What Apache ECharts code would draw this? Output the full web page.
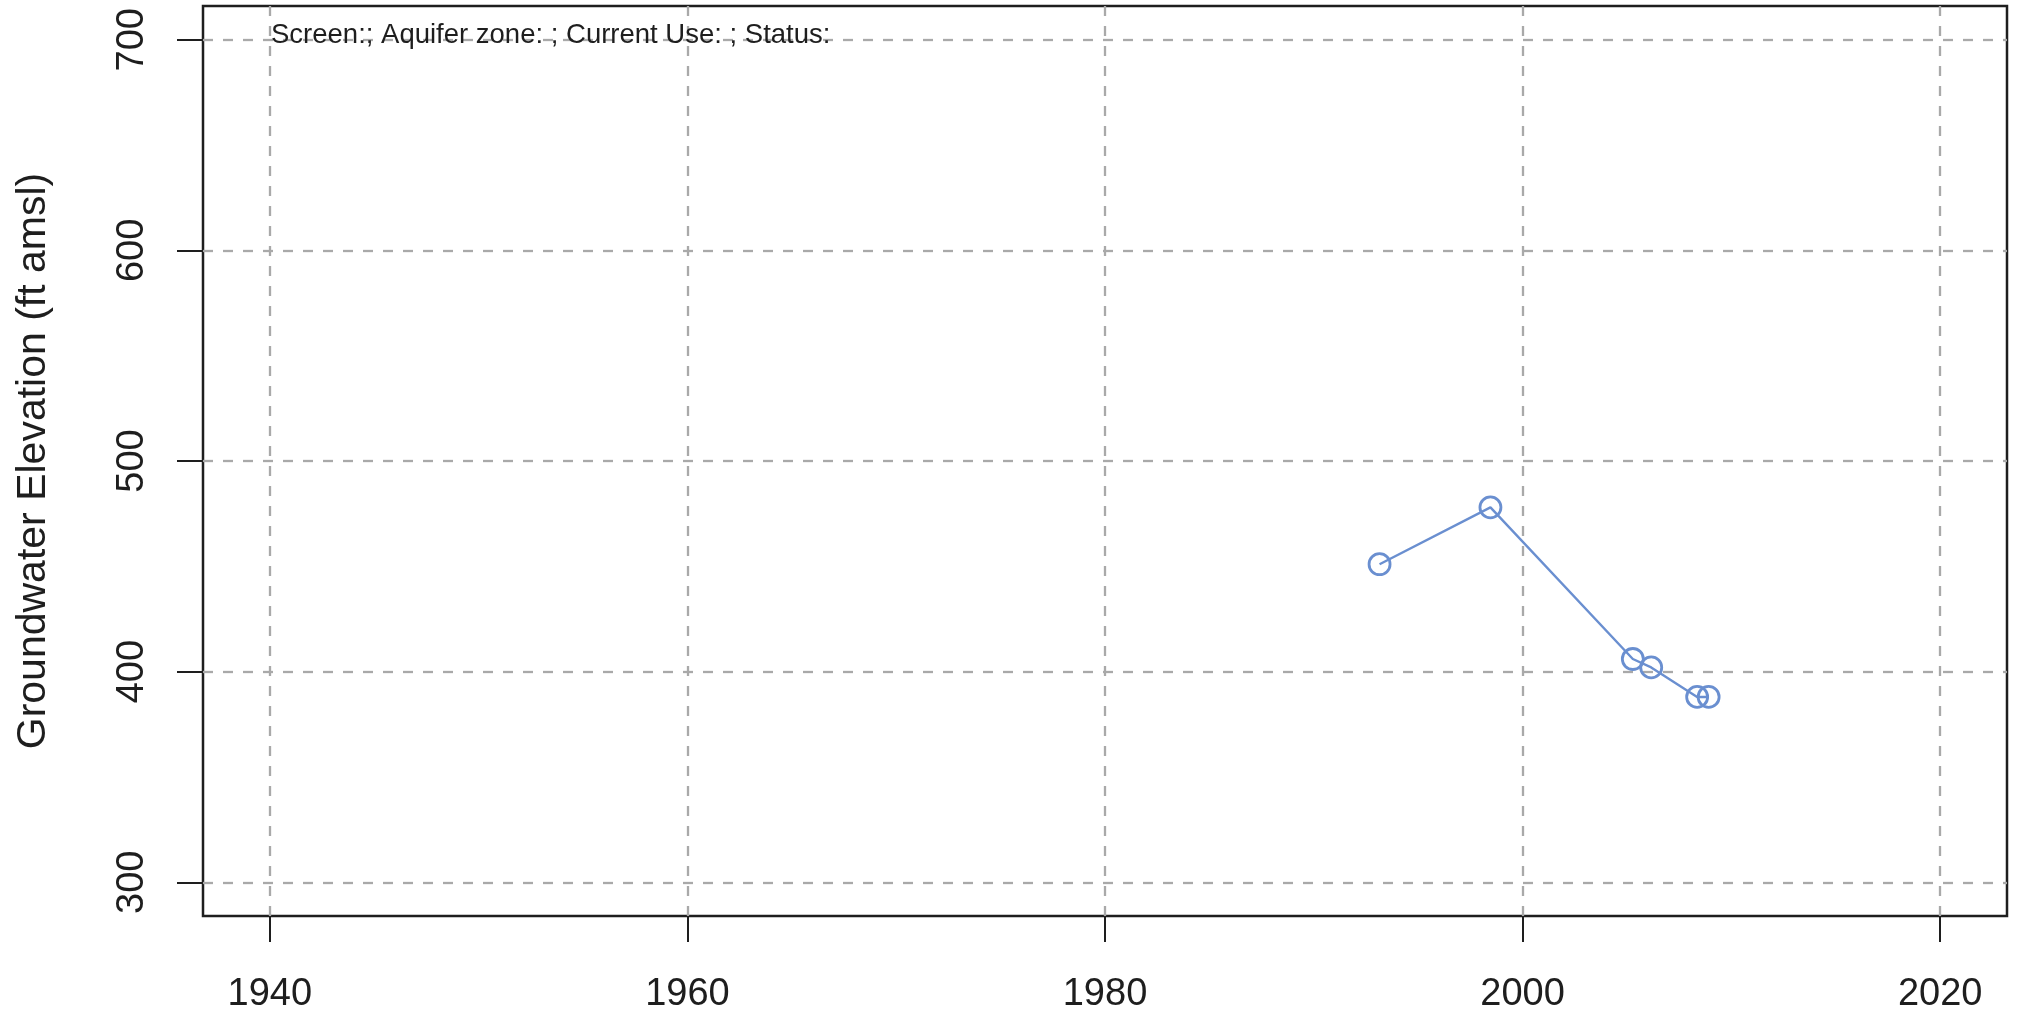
<!DOCTYPE html>
<html>
<head>
<meta charset="utf-8">
<script src="https://cdn.jsdelivr.net/npm/echarts@6/dist/echarts.min.js"></script>
<style>
html,body{margin:0;padding:0;background:#fff;}
#chart{width:2021px;height:1016px;}
</style>
</head>
<body>
<div id="chart"></div>
<script>
// Data
const years = [1993.15, 1998.46, 2005.28, 2006.16, 2008.36, 2008.91];
const elevations = [451, 478, 406, 402, 388, 388];
const xTicks = [1940, 1960, 1980, 2000, 2020];
const yTicks = [300, 400, 500, 600, 700];
const yAxisTitle = 'Groundwater Elevation (ft amsl)';
const headerText = 'Screen:; Aquifer zone: ; Current Use: ; Status:';

const FONT = '"Liberation Sans", Arial, Helvetica, sans-serif';
const TXT = '#1e1e1e';
const GRIDC = '#a9a9a9';
const LINEC = '#6a8fd0';

const chart = echarts.init(document.getElementById('chart'), null, {renderer: 'canvas'});

const gridLines = [];
xTicks.forEach(v => gridLines.push({xAxis: v}));
yTicks.forEach(v => gridLines.push({yAxis: v}));

const option = {
  animation: false,
  backgroundColor: '#ffffff',
  grid: {
    left: 203, right: 14, top: 6, bottom: 100,
    show: true, borderColor: '#1e1e1e', borderWidth: 2.5, backgroundColor: 'transparent'
  },
  xAxis: {
    type: 'value',
    min: 1936.8, max: 2023.2,
    axisLine: {show: false},
    axisTick: {show: true, customValues: xTicks, length: 26, inside: false, lineStyle: {color: '#1e1e1e', width: 2}},
    axisLabel: {show: true, customValues: xTicks, margin: 60, fontSize: 38, color: TXT, fontFamily: FONT,
      formatter: v => String(Math.round(v))},
    splitLine: {show: false}
  },
  yAxis: {
    type: 'value',
    min: 284, max: 716,
    name: yAxisTitle,
    nameLocation: 'middle',
    nameGap: 149,
    nameTextStyle: {fontSize: 41, color: TXT, fontFamily: FONT},
    axisLine: {show: false},
    axisTick: {show: true, customValues: yTicks, length: 26, inside: false, lineStyle: {color: '#1e1e1e', width: 2}},
    axisLabel: {show: true, customValues: yTicks, rotate: 90, margin: 51, fontSize: 38, color: TXT, fontFamily: FONT,
      formatter: v => String(Math.round(v))},
    splitLine: {show: false}
  },
  graphic: [{
    type: 'text',
    left: 271, top: 21,
    style: {text: headerText, fontSize: 27.5, fill: TXT, fontFamily: FONT},
    z: 10
  }],
  series: [
    {
      type: 'line',
      data: [],
      silent: true,
      z: 1,
      markLine: {
        silent: true,
        symbol: ['none', 'none'],
        label: {show: false},
        lineStyle: {color: GRIDC, width: 2.3, type: [10, 10]},
        data: gridLines,
        animation: false
      }
    },
    {
      type: 'line',
      data: years.map((y, i) => [y, elevations[i]]),
      z: 5,
      symbol: 'circle',
      symbolSize: 21,
      showSymbol: true,
      lineStyle: {color: LINEC, width: 2.4},
      itemStyle: {color: 'rgba(255,255,255,0)', borderColor: LINEC, borderWidth: 2.8, opacity: 1},
      emphasis: {disabled: true}
    }
  ]
};
chart.setOption(option);
</script>
</body>
</html>
